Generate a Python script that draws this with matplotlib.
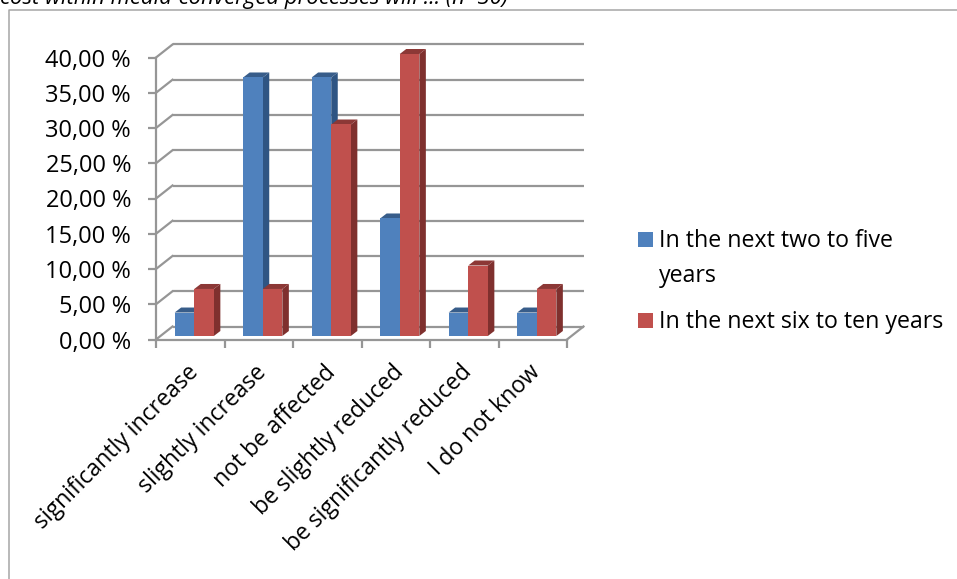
import matplotlib
matplotlib.use("Agg")
import matplotlib.pyplot as plt
from matplotlib.patches import Polygon, Rectangle
from matplotlib.transforms import ScaledTranslation, Affine2D
from matplotlib.lines import Line2D

W, H = 957, 579

categories = ["significantly increase", "slightly increase", "not be affected",
              "be slightly reduced", "be significantly reduced", "I do not know"]
two_to_five = [3.33, 36.67, 36.67, 16.67, 3.33, 3.33]
six_to_ten = [6.67, 6.67, 30.0, 40.0, 10.0, 6.67]
y_ticks = [0, 5, 10, 15, 20, 25, 30, 35, 40]
series_names = ["In the next two to five\nyears", "In the next six to ten years"]
title = "cost within media-converged processes will ... (n=30)"

BLUE = ("#4F81BD", "#2F5583", "#385D8A")
RED = ("#C0504D", "#7F302E", "#8C3836")
GRID = "#969696"

plt.rcParams["font.family"] = ["Open Sans", "DejaVu Sans"]

fig = plt.figure(figsize=(W / 100, H / 100), dpi=100)
# axes box is the front plane of the fake 3d chart, in pixels
x0, x1, y_top, y_bot = 156, 567, 57.5, 339.5
ax = fig.add_axes([x0 / W, 1 - y_bot / H, (x1 - x0) / W, (y_bot - y_top) / H])
ax.set_xlim(0, 6)
ax.set_ylim(0, 40)
ax.patch.set_visible(False)

px = (x1 - x0) / 6
py = (y_bot - y_top) / 40
back_dx, back_dy = 16.5 / px, 13 / py
bar_w = 19.6 / px
side_dx, side_dy = 6.5 / px, 5 / py

# back wall and the diagonals
for v in y_ticks:
    ax.plot([back_dx, 6 + back_dx], [v + back_dy, v + back_dy], color=GRID, lw=1.6,
            clip_on=False, zorder=1, solid_capstyle="butt")
    ax.plot([0, back_dx], [v, v + back_dy], color=GRID, lw=1.6, clip_on=False, zorder=1)
ax.plot([6, 6 + back_dx], [0, back_dy], color=GRID, lw=1.6, clip_on=False, zorder=1)

# bars sit a little inside the floor
shift = Affine2D().translate(4, 3.5)


def draw_bars(lefts, values, colors, z):
    front, side, top = colors
    for left, v in zip(lefts, values):
        r = left + bar_w
        side_pts = [(r, 0), (r + side_dx, side_dy), (r + side_dx, v + side_dy), (r, v)]
        top_pts = [(left, v), (left + side_dx, v + side_dy), (r + side_dx, v + side_dy), (r, v)]
        ax.add_patch(Polygon(side_pts, closed=True, fc=side, ec="none", zorder=z,
                             transform=ax.transData + shift, clip_on=False))
        ax.add_patch(Polygon(top_pts, closed=True, fc=top, ec="none", zorder=z,
                             transform=ax.transData + shift, clip_on=False))
    ax.bar(lefts, values, width=bar_w, align="edge", color=front, zorder=z + 0.1,
           transform=ax.transData + shift, clip_on=False)


centers = [i + 0.5 for i in range(len(categories))]
draw_bars([c - bar_w for c in centers], two_to_five, BLUE, 3)
draw_bars(centers, six_to_ten, RED, 4)

ax.set_xlim(0, 6)
ax.set_ylim(0, 40)

for s in ["top", "right"]:
    ax.spines[s].set_visible(False)
for s in ["left", "bottom"]:
    ax.spines[s].set_color(GRID)
    ax.spines[s].set_linewidth(1.6)
    ax.spines[s].set_zorder(2)

ax.set_yticks(y_ticks)
ax.set_yticklabels([f"{v:.2f}".replace(".", ",") + " %" for v in y_ticks], fontsize=17, color="black")
ax.tick_params(axis="y", length=6, width=1.6, color=GRID, pad=12)

ax.set_xticks(range(7))
ax.set_xticklabels([])
ax.tick_params(axis="x", which="major", length=6, width=1.6, color=GRID)
ax.set_xticks(centers, minor=True)
ax.set_xticklabels(categories, minor=True, rotation=45, ha="right", va="top",
                   rotation_mode="anchor", fontsize=16.5, color="black")
ax.tick_params(axis="x", which="minor", length=0, pad=15)
label_shift = ScaledTranslation(-4 / 100, 0, fig.dpi_scale_trans)
for lab in ax.get_xticklabels(minor=True):
    lab.set_transform(lab.get_transform() + label_shift)

# legend, placed by hand like the original
to_fig = Affine2D().scale(1, -1).translate(0, H)
for (name, color, sq_y, txt_y) in zip(series_names, [BLUE[0], RED[0]], [232, 313], [229, 310]):
    fig.add_artist(Rectangle((638, sq_y + 15), 15, -15, fc=color, ec="none", transform=to_fig))
    fig.text(659, txt_y, name, transform=to_fig, fontsize=16.7, va="top", ha="left",
             linespacing=1.62, color="black")

# frame of the embedded picture and the cut off caption
fig.add_artist(Line2D([8.5, 8.5, W], [H, 9.5, 9.5], color="#A6A6A6", lw=1.1, transform=to_fig))
fig.text(0, 4, title, transform=to_fig, fontsize=15.9, style="italic", va="baseline", ha="left", color="black")

fig.savefig("out.png", dpi=100)
